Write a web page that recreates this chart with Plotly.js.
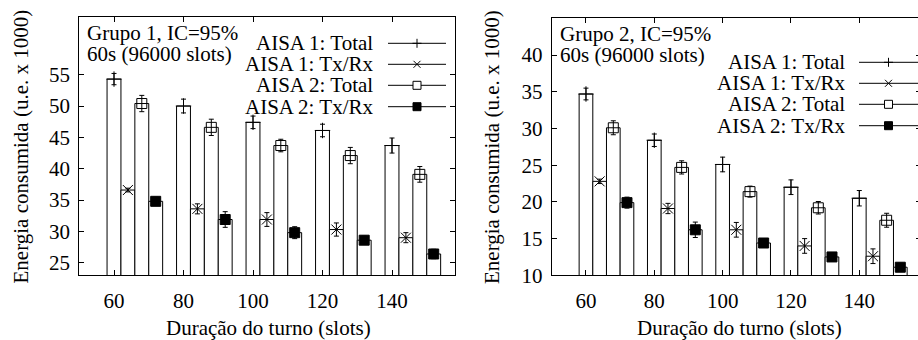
<!DOCTYPE html>
<html>
<head>
<meta charset="utf-8">
<script src="https://cdn.plot.ly/plotly-3.0.1.min.js"></script>
<style>
html,body{margin:0;padding:0;overflow:hidden;background:#fff;width:918px;height:340px;}
#chart{width:922px;height:340px;}
</style>
</head>
<body>
<div id="chart"></div>
<script>
// ---- data ----
const turnDurations = [60, 80, 100, 120, 140];
const seriesNames = ["AISA 1: Total", "AISA 1: Tx/Rx", "AISA 2: Total", "AISA 2: Tx/Rx"];

// Grupo 1
const g1Aisa1Total    = [54.3, 50.0, 47.4, 46.1, 43.7];
const g1Aisa1TotalErr = [0.9, 1.1, 1.0, 1.0, 1.2];
const g1Aisa1TxRx     = [36.6, 33.6, 31.9, 30.3, 29.0];
const g1Aisa1TxRxErr  = [0.3, 0.8, 1.1, 1.05, 0.8];
const g1Aisa2Total    = [50.4, 46.6, 43.7, 42.1, 39.1];
const g1Aisa2TotalErr = [1.3, 1.3, 1.0, 1.3, 1.25];
const g1Aisa2TxRx     = [34.8, 31.9, 29.8, 28.6, 26.4];
const g1Aisa2TxRxErr  = [0.65, 1.25, 0.95, 0.65, 0.75];

// Grupo 2
const g2Aisa1Total    = [34.7, 28.4, 25.1, 22.0, 20.5];
const g2Aisa1TotalErr = [0.8, 0.85, 1.0, 1.0, 1.05];
const g2Aisa1TxRx     = [22.8, 19.1, 16.2, 14.0, 12.6];
const g2Aisa1TxRxErr  = [0.3, 0.7, 1.0, 1.0, 1.0];
const g2Aisa2Total    = [30.1, 24.7, 21.4, 19.2, 17.5];
const g2Aisa2TotalErr = [0.95, 0.9, 0.75, 0.85, 0.95];
const g2Aisa2TxRx     = [19.9, 16.2, 14.4, 12.5, 11.1];
const g2Aisa2TxRxErr  = [0.75, 1.05, 0.6, 0.55, 0.55];

const panelTitles = [["Grupo 1, IC=95%", "60s (96000 slots)"], ["Grupo 2, IC=95%", "60s (96000 slots)"]];
const xTitle = "Duração do turno (slots)";
const yTitle = "Energia consumida (u.e. x 1000)";

// ---- layout geometry (pixels) ----
const W = 922, H = 340;
const FONT = "'Liberation Serif'";
const FS = 21;
const px = v => v / W;
const py = v => 1 - v / H;

const offsets = [0, 4, 8, 12];
const symbols = ["cross-thin-open", "x-thin-open", "square-open", "square"];
const symSizes = [11, 10, 10, 10];

function panelTraces(vals, errs, xa, ya) {
  const traces = [];
  for (let i = 0; i < 4; i++) {
    const xs = turnDurations.map(d => d + offsets[i]);
    traces.push({
      type: "bar", x: xs, y: vals[i], width: 4, xaxis: xa, yaxis: ya,
      marker: {color: "#ffffff", line: {color: "#000000", width: 1}},
      showlegend: false, hoverinfo: "skip"
    });
  }
  for (let i = 0; i < 4; i++) {
    const xs = turnDurations.map(d => d + offsets[i]);
    traces.push({
      type: "scatter", mode: "markers", x: xs, y: vals[i], xaxis: xa, yaxis: ya,
      marker: {symbol: symbols[i], size: symSizes[i], color: "#000000",
               line: {color: "#000000", width: 1}},
      error_y: {type: "data", array: errs[i], visible: true, color: "#000000", thickness: 1, width: 2.5},
      showlegend: false, cliponaxis: false
    });
  }
  return traces;
}

const data = [].concat(
  panelTraces([g1Aisa1Total, g1Aisa1TxRx, g1Aisa2Total, g1Aisa2TxRx],
              [g1Aisa1TotalErr, g1Aisa1TxRxErr, g1Aisa2TotalErr, g1Aisa2TxRxErr], "x", "y"),
  panelTraces([g2Aisa1Total, g2Aisa1TxRx, g2Aisa2Total, g2Aisa2TxRx],
              [g2Aisa1TotalErr, g2Aisa1TxRxErr, g2Aisa2TotalErr, g2Aisa2TxRxErr], "x2", "y2")
);

function xAxis(dom, anchor) {
  return {
    domain: dom, anchor: anchor, range: [50, 158], autorange: false,
    tickvals: turnDurations, ticks: "inside", ticklen: 5, tickcolor: "#000",
    showline: true, linecolor: "#000", linewidth: 1, mirror: "ticks",
    showgrid: false, zeroline: false, automargin: false,
    tickfont: {family: FONT, size: FS, color: "#000"}, ticklabelstandoff: 6
  };
}
function yAxis(dom, anchor, range, tv) {
  return {
    domain: dom, anchor: anchor, range: range, autorange: false,
    tickvals: tv, ticks: "inside", ticklen: 5, tickcolor: "#000",
    showline: true, linecolor: "#000", linewidth: 1, mirror: "ticks",
    showgrid: false, zeroline: false, automargin: false,
    tickfont: {family: FONT, size: FS, color: "#000"}, ticklabelstandoff: 4
  };
}

const layout = {
  width: W, height: H,
  margin: {l: 0, r: 0, t: 0, b: 0},
  paper_bgcolor: "#fff", plot_bgcolor: "#fff",
  barmode: "overlay", showlegend: false,
  font: {family: FONT, size: FS, color: "#000"},
  xaxis: xAxis([px(79.25), px(454.55)], "y"),
  yaxis: yAxis([py(275.3), py(16.7)], "x", [23, 64.25], [25, 30, 35, 40, 45, 50, 55]),
  xaxis2: xAxis([px(551.8), px(920.8)], "y2"),
  yaxis2: yAxis([py(275.3), py(18.4)], "x2", [10, 45], [10, 15, 20, 25, 30, 35, 40]),
  annotations: [],
  shapes: []
};

function txt(text, x, y, xanchor, extra) {
  return Object.assign({text: text, xref: "paper", yref: "paper", x: px(x), y: py(y),
    xanchor: xanchor, yanchor: "middle", showarrow: false, borderpad: 0,
    font: {family: FONT, size: FS, color: "#000"}}, extra || {});
}

// panel texts
const panels = [
  {titleX: 86, titleY: [33, 53.5], legTextX: 374, legRows: [43.3, 64.3, 85.3, 106.7], lineX: [388, 446], markX: 417,
   xTitleX: 268, yTitleX: 20},
  {titleX: 559, titleY: [34.5, 55], legTextX: 846, legRows: [62.3, 83.3, 104.3, 125.7], lineX: [859, 920], markX: 888.5,
   xTitleX: 739, yTitleX: 491.5}
];

panels.forEach((p, k) => {
  layout.annotations.push(txt(panelTitles[k][0], p.titleX, p.titleY[0], "left"));
  layout.annotations.push(txt(panelTitles[k][1], p.titleX, p.titleY[1], "left"));
  layout.annotations.push(txt(xTitle, p.xTitleX, 328, "center"));
  layout.annotations.push(txt(yTitle, p.yTitleX, 146.5, "center", {textangle: -90}));
  seriesNames.forEach((name, i) => {
    const y = p.legRows[i];
    layout.annotations.push(txt(name, p.legTextX, y, "right"));
    layout.shapes.push({type: "line", xref: "paper", yref: "paper",
      x0: px(p.lineX[0]), x1: px(p.lineX[1]), y0: py(y), y1: py(y),
      line: {color: "#000", width: 1}});
    const m = p.markX, h = 4.5;
    if (i === 0) {
      layout.shapes.push({type: "line", xref: "paper", yref: "paper",
        x0: px(m), x1: px(m), y0: py(y - h), y1: py(y + h), line: {color: "#000", width: 1}});
      layout.shapes.push({type: "line", xref: "paper", yref: "paper",
        x0: px(m - h), x1: px(m + h), y0: py(y), y1: py(y), line: {color: "#000", width: 1}});
    } else if (i === 1) {
      const d = 3.5;
      layout.shapes.push({type: "line", xref: "paper", yref: "paper",
        x0: px(m - d), x1: px(m + d), y0: py(y - d), y1: py(y + d), line: {color: "#000", width: 1}});
      layout.shapes.push({type: "line", xref: "paper", yref: "paper",
        x0: px(m - d), x1: px(m + d), y0: py(y + d), y1: py(y - d), line: {color: "#000", width: 1}});
    } else {
      const s = 4;
      layout.shapes.push({type: "rect", xref: "paper", yref: "paper",
        x0: px(m - s), x1: px(m + s), y0: py(y + s), y1: py(y - s),
        line: {color: "#000", width: 1}, fillcolor: i === 3 ? "#000" : "#fff"});
    }
  });
});

Plotly.newPlot("chart", data, layout, {staticPlot: true, displayModeBar: false});
</script>
</body>
</html>
